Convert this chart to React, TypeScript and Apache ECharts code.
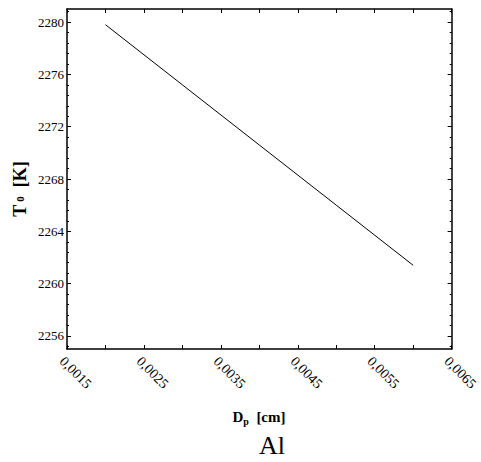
import React, { useEffect, useRef } from "react";
import * as echarts from "echarts";

const dp = [0.002, 0.003, 0.004, 0.005, 0.006];
const t0 = [2279.8, 2275.2, 2270.6, 2266.0, 2261.4];
const yMajor = [2256, 2260, 2264, 2268, 2272, 2276, 2280];
const yMinor = [2255.2, 2256.8, 2257.6, 2258.4, 2259.2, 2260.8, 2261.6, 2262.4, 2263.2, 2264.8, 2265.6, 2266.4, 2267.2, 2268.8, 2269.6, 2270.4, 2271.2, 2272.8, 2273.6, 2274.4, 2275.2, 2276.8, 2277.6, 2278.4, 2279.2, 2280.8];
const xLabels = [0.0015, 0.0025, 0.0035, 0.0045, 0.0055, 0.0065];

const FONT = "Liberation Serif";

export default function App() {
  const ref = useRef<HTMLDivElement>(null);
  useEffect(() => {
    if (!ref.current) return;
    const chart = echarts.init(ref.current, undefined, { renderer: "svg" });
    const axLine = { show: true, lineStyle: { color: "#000", width: 1.5 } };
    const tickStyle = { color: "#000", width: 1 };
    const yBase = { type: "value", min: 2255, max: 2281, splitLine: { show: false } };
    const xBase = { type: "value", min: 0.0015, max: 0.0065, interval: 0.0005, splitLine: { show: false } };
    chart.setOption({
      animation: false,
      grid: { left: 67, right: 25, top: 9, bottom: 113 },
      xAxis: [
        {
          ...xBase,
          position: "bottom",
          axisLine: axLine,
          axisTick: { show: true, inside: true, length: 4, lineStyle: tickStyle },
          axisLabel: {
            show: true,
            customValues: xLabels,
            rotate: -45,
            margin: 5,
            verticalAlign: "top",
            color: "#000",
            fontFamily: FONT,
            fontSize: 14,
            formatter: (v: number) => v.toFixed(4).replace(".", ","),
          },
        },
        {
          ...xBase,
          position: "top",
          axisLine: axLine,
          axisTick: { show: true, inside: true, length: 4, lineStyle: tickStyle },
          axisLabel: { show: false },
        },
      ],
      yAxis: [
        {
          ...yBase,
          position: "left",
          axisLine: axLine,
          axisTick: { show: true, inside: true, length: 4, customValues: yMajor, lineStyle: tickStyle },
          axisLabel: {
            show: true,
            customValues: yMajor,
            margin: 3,
            color: "#000",
            fontFamily: FONT,
            fontSize: 13,
            formatter: (v: number) => String(v),
          },
        },
        {
          ...yBase,
          position: "left",
          axisLine: { show: false },
          axisTick: { show: true, inside: true, length: 2, customValues: yMinor, lineStyle: tickStyle },
          axisLabel: { show: false },
        },
        {
          ...yBase,
          position: "right",
          axisLine: axLine,
          axisTick: { show: true, inside: true, length: 4, customValues: yMajor, lineStyle: tickStyle },
          axisLabel: { show: false },
        },
        {
          ...yBase,
          position: "right",
          axisLine: { show: false },
          axisTick: { show: true, inside: true, length: 2, customValues: yMinor, lineStyle: tickStyle },
          axisLabel: { show: false },
        },
      ],
      series: [
        {
          type: "line",
          xAxisIndex: 0,
          yAxisIndex: 0,
          data: dp.map((d, i) => [d, t0[i]]),
          showSymbol: false,
          symbol: "none",
          lineStyle: { color: "#000", width: 1 },
        },
      ],
      graphic: [
        {
          type: "text",
          x: 20,
          y: 189,
          rotation: Math.PI / 2,
          style: {
            text: "{b|T}{s| 0}{b|  [K]}",
            align: "center",
            verticalAlign: "middle",
            rich: {
              b: { fontFamily: FONT, fontWeight: "bold", fontSize: 18, fill: "#000" },
              s: { fontFamily: FONT, fontWeight: "bold", fontSize: 11, fill: "#000" },
            },
          },
        },
        {
          type: "text",
          x: 259,
          y: 417,
          style: {
            text: "{b|D}{s|p}{b|  [cm]}",
            align: "center",
            verticalAlign: "middle",
            rich: {
              b: { fontFamily: FONT, fontWeight: "bold", fontSize: 15, fill: "#000" },
              s: { fontFamily: FONT, fontWeight: "bold", fontSize: 10, fill: "#000", padding: [8, 0, 0, 0] },
            },
          },
        },
        {
          type: "text",
          x: 272,
          y: 445,
          style: {
            text: "Al",
            align: "center",
            verticalAlign: "middle",
            fontFamily: FONT,
            fontSize: 26,
            fill: "#000",
          },
        },
      ],
    });
    return () => chart.dispose();
  }, []);
  return <div ref={ref} style={{ position: "absolute", left: 0, top: 0, width: 481, height: 462 }} />;
}
